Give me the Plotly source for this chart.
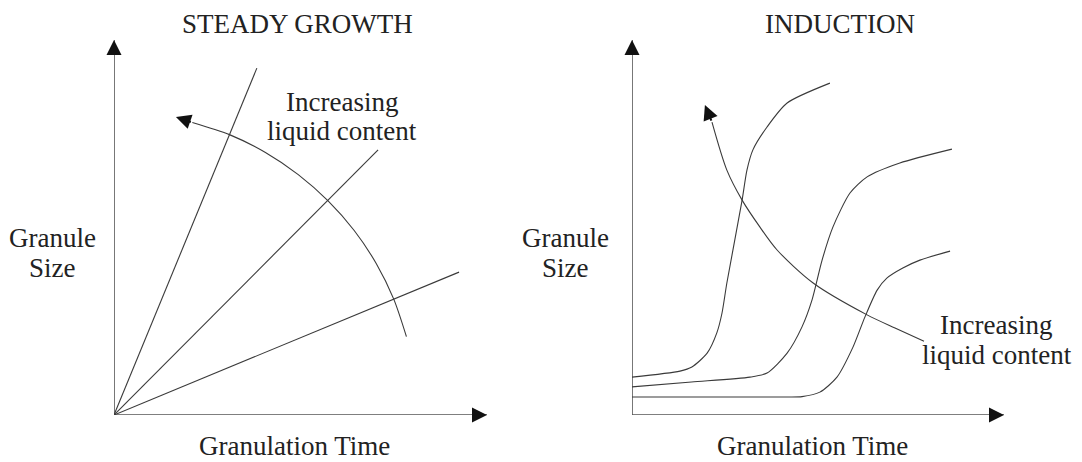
import plotly.graph_objects as go

W, H = 1082, 462          # reference picture size
PAD = 8                   # browser body margin before the figure
FW, FH = W - PAD, H - PAD

# ---------------- text ----------------
titles = ["STEADY GROWTH", "INDUCTION"]
x_label = "Granulation Time"
y_label = ["Granule", "Size"]
arrow_label = ["Increasing", "liquid content"]

# ---------------- data (time, size in schematic units 0-10) ----------------
# Steady growth: straight lines from the origin, end points
steady_time_end = [3.83, 7.08, 9.25]
steady_size_end = [9.25, 7.07, 3.81]

# Steady growth: "increasing liquid content" arc
steady_arc_time = [7.84, 7.50, 7.03, 6.44, 5.74, 4.94, 4.06, 3.11, 2.10]
steady_arc_size = [2.09, 3.09, 4.04, 4.92, 5.71, 6.41, 7.00, 7.47, 7.80]
steady_arc_tip = [1.66, 7.95]

# Induction curves
ind1_time = [0.00, 1.29, 1.61, 2.02, 2.28, 2.42, 2.55, 2.96, 3.09, 3.25, 3.63, 4.17, 5.32]
ind1_size = [1.01, 1.17, 1.28, 1.65, 2.19, 2.72, 3.52, 5.73, 6.53, 7.07, 7.68, 8.32, 8.85]

ind2_time = [0.00, 1.60, 3.17, 3.63, 4.17, 4.57, 4.84, 5.11, 5.40, 5.86, 6.32, 7.20, 8.60]
ind2_size = [0.75, 0.88, 1.01, 1.12, 1.65, 2.35, 3.07, 4.13, 5.01, 5.92, 6.35, 6.72, 7.09]

ind3_time = [0.00, 2.30, 4.20, 4.57, 5.05, 5.51, 5.94, 6.26, 6.59, 6.85, 7.28, 7.74, 8.55]
ind3_size = [0.48, 0.48, 0.48, 0.49, 0.61, 1.01, 1.81, 2.61, 3.33, 3.65, 3.92, 4.13, 4.37]

# Induction: "increasing liquid content" arrow curve
ind_arc_time = [7.85, 7.07, 6.32, 4.87, 3.90, 3.44, 2.96, 2.55, 2.15]
ind_arc_size = [1.97, 2.32, 2.67, 3.52, 4.40, 5.01, 5.73, 6.53, 7.81]
ind_arc_tip = [1.96, 8.27]

axis_len = 10

LINE = "#3a3a3a"
AXIS = "#555555"
TEXT = "#222222"
FONT = "Liberation Serif, Times New Roman, serif"


def fx(px):
    return (px - PAD) / FW


def fy(py):
    return 1 - (py - PAD) / FH


fig = go.Figure()


def line(x, y, xa, ya, color=LINE, width=1.1, shape="linear", smooth=None):
    kw = dict(color=color, width=width, shape=shape)
    if smooth is not None:
        kw["smoothing"] = smooth
    fig.add_trace(go.Scatter(x=x, y=y, mode="lines", line=kw,
                             xaxis=xa, yaxis=ya, hoverinfo="skip",
                             showlegend=False))


for xa, ya in (("x", "y"), ("x2", "y2")):
    line([0, axis_len], [0, 0], xa, ya, color=AXIS, width=1.6)
    line([0, 0], [0, axis_len], xa, ya, color=AXIS, width=1.6)

# Steady growth lines
for tx, sy in zip(steady_time_end, steady_size_end):
    line([0, tx], [0, sy], "x", "y")
line(steady_arc_time, steady_arc_size, "x", "y", shape="spline", smooth=0.8)

# Induction curves
line(ind1_time, ind1_size, "x2", "y2", shape="spline", smooth=0.7)
line(ind2_time, ind2_size, "x2", "y2", shape="spline", smooth=0.7)
line(ind3_time, ind3_size, "x2", "y2", shape="spline", smooth=0.7)
line(ind_arc_time, ind_arc_size, "x2", "y2", shape="spline", smooth=0.8)

ann = []


def head(x, y, ax, ay, xr, yr):
    ann.append(dict(x=x, y=y, ax=ax, ay=ay, xref=xr, yref=yr, axref=xr, ayref=yr,
                    text="", showarrow=True, arrowhead=2, arrowsize=1.5,
                    arrowwidth=2, arrowcolor="#111111", standoff=0))


for xr, yr in (("x", "y"), ("x2", "y2")):
    head(axis_len, 0, axis_len - 0.4, 0, xr, yr)
    head(0, axis_len, 0, axis_len - 0.4, xr, yr)

head(steady_arc_tip[0], steady_arc_tip[1], steady_arc_time[-1], steady_arc_size[-1], "x", "y")
head(ind_arc_tip[0], ind_arc_tip[1], ind_arc_time[-1], ind_arc_size[-1], "x2", "y2")


def txt(s, px, py):
    ann.append(dict(text=s, x=fx(px), y=fy(py), xref="paper", yref="paper",
                    xanchor="center", yanchor="middle", showarrow=False,
                    borderpad=0,
                    font=dict(family=FONT, size=27, color=TEXT)))


txt(titles[0], 297, 24)
txt(titles[1], 840, 24)
txt(y_label[0], 52, 238)
txt(y_label[1], 52, 268)
txt(y_label[0], 565, 238)
txt(y_label[1], 565, 268)
txt(x_label, 294, 446)
txt(x_label, 812, 446)
txt(arrow_label[0], 342, 102)
txt(arrow_label[1], 342, 131)
txt(arrow_label[0], 996, 325)
txt(arrow_label[1], 997, 355)

ax_common = dict(visible=False, range=[0, axis_len], fixedrange=True)
fig.update_layout(
    width=FW, height=FH,
    margin=dict(l=0, r=0, t=0, b=0),
    paper_bgcolor="white", plot_bgcolor="white",
    xaxis=dict(domain=[fx(114), fx(487)], anchor="y", **ax_common),
    yaxis=dict(domain=[fy(415), fy(40)], anchor="x", **ax_common),
    xaxis2=dict(domain=[fx(632), fx(1004)], anchor="y2", **ax_common),
    yaxis2=dict(domain=[fy(415), fy(40)], anchor="x2", **ax_common),
    annotations=ann,
    showlegend=False,
)

fig.write_html("out.html")
